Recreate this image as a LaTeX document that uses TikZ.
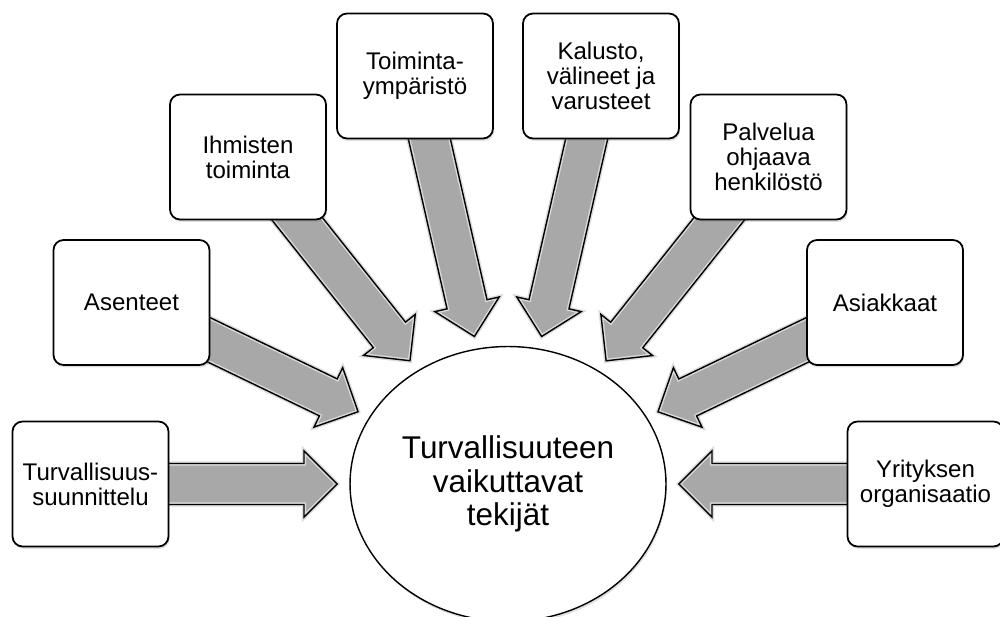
\documentclass[tikz,border=0pt]{standalone}
\usepackage{fontspec}
\setmainfont{Liberation Sans}
\usetikzlibrary{calc}
\usetikzlibrary{shadows}
\usetikzlibrary{shapes.geometric}

\pgfdeclarelayer{bg}
\pgfsetlayers{bg,main}

\tikzset{
  factor/.style={draw, line width=1pt, rounded corners=0.2cm, fill=white,
    minimum width=3.12cm, minimum height=2.5cm, align=center,
    font=\fontsize{13.7}{14.3}\selectfont,
    drop shadow={opacity=0.25, shadow xshift=0.6pt, shadow yshift=-1.4pt}},
  goal/.style={ellipse, draw, line width=0.8pt, fill=white,
    minimum width=6.32cm, minimum height=5.5cm, inner sep=0pt, outer sep=0.26cm,
    align=center, font=\fontsize{17.9}{19.1}\selectfont,
    drop shadow={opacity=0.25, shadow xshift=0.6pt, shadow yshift=-1.4pt}},
  arrowbody/.style={fill=black!34, draw=black!14, line width=2.4pt, line join=miter,
    postaction={draw=black, line width=0.8pt}}
}

\newcommand{\blockarrow}[2]{%
  \coordinate (hb) at ($(#2)!0.66cm!(#1)$);
  \draw[arrowbody] ($(#1)!0.41cm!-90:(#2)$) -- ($(hb)!0.41cm!90:(#1)$)
    -- ($(hb)!0.66cm!90:(#1)$) -- (#2) -- ($(hb)!0.66cm!-90:(#1)$)
    -- ($(hb)!0.41cm!-90:(#1)$) -- ($(#1)!0.41cm!90:(#2)$) -- cycle;}

\begin{document}
\begin{tikzpicture}[x=0.02cm,y=-0.02cm]
\useasboundingbox (0,0) rectangle (1000,617);

\node[goal] (c) at (508,484) {Turvallisuuteen\\vaikuttavat\\tekijät};

\node[factor] (f1) at (90.5,484) {Turvallisuus-\\suunnittelu};
\node[factor] (f2) at (131.5,302.5) {Asenteet};
\node[factor] (f3) at (248,157) {Ihmisten\\toiminta};
\node[factor] (f4) at (415,76) {Toiminta-\\ympäristö};
\node[factor] (f5) at (601,76) {Kalusto,\\välineet ja\\varusteet};
\node[factor] (f6) at (768.5,157) {Palvelua\\ohjaava\\henkilöstö};
\node[factor] (f7) at (885,302.5) {Asiakkaat};
\node[factor] (f8) at (925.5,484) {Yrityksen\\organisaatio};

\path (f1) -- (c) coordinate[pos=1] (t1);
\path (f2) -- (c) coordinate[pos=1] (t2);
\path (f3) -- (c) coordinate[pos=1] (t3);
\path (f4) -- (c) coordinate[pos=1] (t4);
\path (f5) -- (c) coordinate[pos=1] (t5);
\path (f6) -- (c) coordinate[pos=1] (t6);
\path (f7) -- (c) coordinate[pos=1] (t7);
\path (f8) -- (c) coordinate[pos=1] (t8);

\begin{pgfonlayer}{bg}
\blockarrow{f1}{t1}
\blockarrow{f2}{t2}
\blockarrow{f3}{t3}
\blockarrow{f4}{t4}
\blockarrow{f5}{t5}
\blockarrow{f6}{t6}
\blockarrow{f7}{t7}
\blockarrow{f8}{t8}
\end{pgfonlayer}

\end{tikzpicture}
\end{document}
